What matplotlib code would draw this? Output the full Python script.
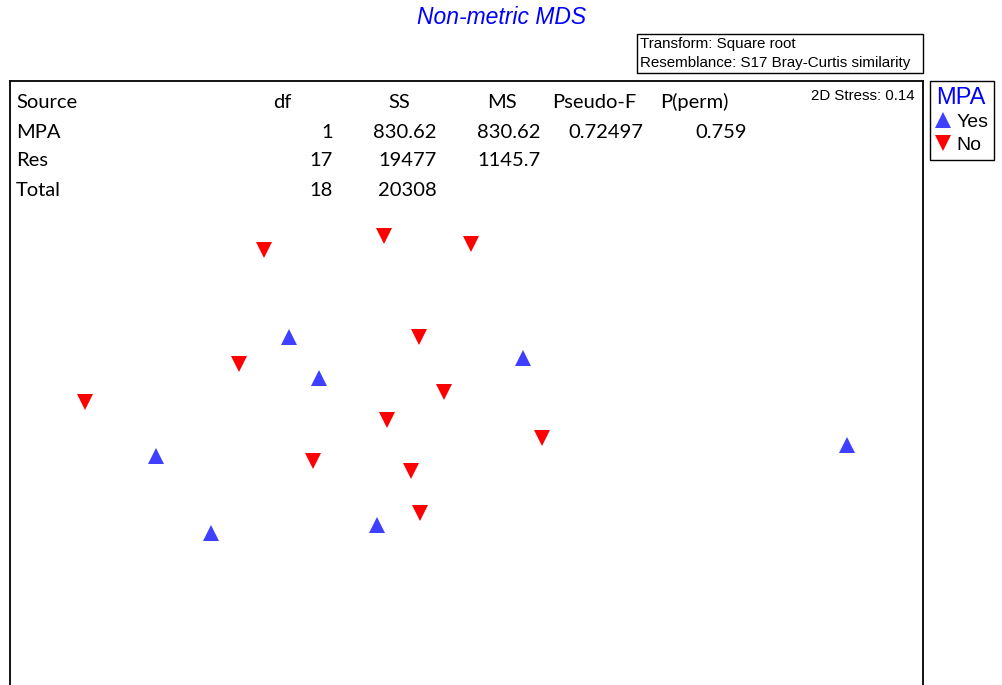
import matplotlib
matplotlib.use("Agg")
import matplotlib.pyplot as plt
from matplotlib.patches import Rectangle

# MDS ordination (arbitrary units, y grows downward like the original plot)
yes_x = [289, 319, 523, 156, 211, 377, 847]
yes_y = [337, 378, 358, 456, 533, 525, 445]
no_x = [264, 384, 471, 419, 239, 85, 444, 387, 542, 313, 411, 420]
no_y = [250, 236, 244, 337, 364, 402, 392, 420, 438, 461, 471, 513]

# PERMANOVA table
headers = ["Source", "df", "SS", "MS", "Pseudo-F", "P(perm)"]
sources = ["MPA", "Res", "Total"]
df_vals = ["1", "17", "18"]
ss_vals = ["830.62", "19477", "20308"]
ms_vals = ["830.62", "1145.7", ""]
f_vals = ["0.72497", "", ""]
p_vals = ["0.759", "", ""]

stress = "2D Stress: 0.14"
notes = ["Transform: Square root", "Resemblance: S17 Bray-Curtis similarity"]

W, H = 1003, 685
fig = plt.figure(figsize=(W / 100, H / 100), dpi=100)

ax_bottom = 720
ax = fig.add_axes([10 / W, 1 - ax_bottom / H, (923 - 10) / W, (ax_bottom - 81) / H])
ax.set_xlim(10, 923)
ax.set_ylim(ax_bottom, 81)
ax.set_xticks([])
ax.set_yticks([])
for s in ax.spines.values():
    s.set_linewidth(1.3)

blue = "#3f3fff"
red = "#ff0000"
h_yes, = ax.plot(yes_x, yes_y, ls="none", marker="^", ms=11, mew=0, color=blue, label="Yes")
h_no, = ax.plot(no_x, no_y, ls="none", marker="v", ms=11, mew=0, color=red, label="No")

tfont = "Lato"
tsize = 14.5
row_y = [102, 132, 161, 190]
head_x = [16, 273, 388, 487, 552, 660]
for hx, h in zip(head_x, headers):
    ax.text(hx, row_y[0], h, ha="left", va="center", fontsize=tsize, family=tfont)

right_x = [333, 437, 540, 643, 747]
cols = [df_vals, ss_vals, ms_vals, f_vals, p_vals]
for i, src in enumerate(sources):
    y = row_y[i + 1]
    ax.text(16, y, src, ha="left", va="center", fontsize=tsize, family=tfont)
    for rx, col in zip(right_x, cols):
        ax.text(rx, y, col[i], ha="right", va="center", fontsize=tsize, family=tfont)

ax.text(915, 96, stress, ha="right", va="center", fontsize=10.8, family="Liberation Sans")

fig.text(502 / W, 1 - 18 / H, "Non-metric MDS", ha="center", va="center",
         fontsize=16.5, style="italic", color="#0000ff", family="Liberation Sans")

# transform / resemblance box
fig.patches.append(Rectangle((637 / W, 1 - 73 / H), (923 - 637) / W, 39 / H,
                             transform=fig.transFigure, fill=False, lw=1, ec="black"))
fig.text(640 / W, 1 - 44 / H, notes[0], ha="left", va="center", fontsize=10.9, family="Liberation Sans")
fig.text(640 / W, 1 - 63 / H, notes[1], ha="left", va="center", fontsize=10.9, family="Liberation Sans")

leg = fig.legend(handles=[h_yes, h_no], title="MPA", loc="upper left",
                 bbox_to_anchor=(930 / W, 1 - 81 / H), borderaxespad=0,
                 fancybox=False, framealpha=1, edgecolor="black",
                 prop={"family": "Liberation Sans", "size": 14},
                 handlelength=0.7, handletextpad=0.35, borderpad=0.3, labelspacing=0.25)
leg.get_title().set_color("#0000ff")
leg.get_title().set_fontsize(17)
leg.get_title().set_family("Liberation Sans")
leg._legend_box.align = "left"
leg.get_frame().set_linewidth(1)

fig.savefig("out.png", dpi=100)
